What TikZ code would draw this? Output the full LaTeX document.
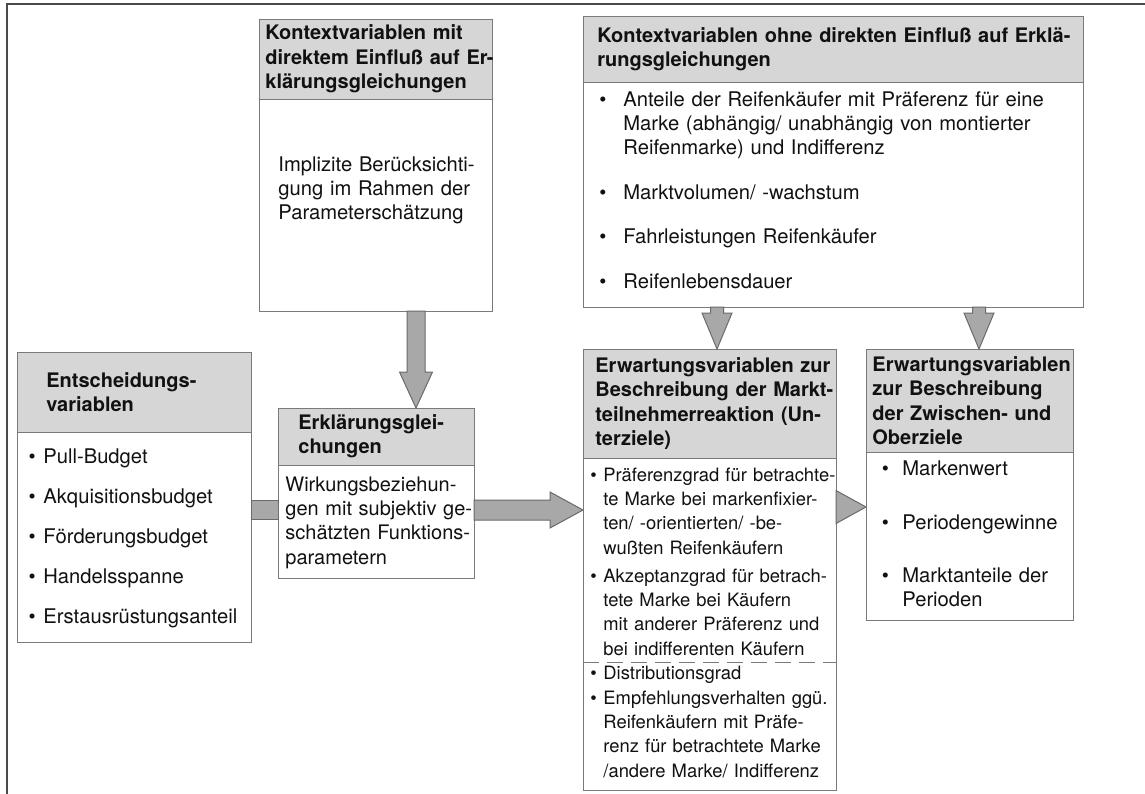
\documentclass[tikz,border=0pt]{standalone}
\usepackage{fontspec}
\setmainfont{TeX Gyre Heros}
\usetikzlibrary{calc}
\definecolor{hdrgray}{HTML}{D6D6D6}
\definecolor{linegray}{HTML}{7A7A7A}
\definecolor{arrfill}{HTML}{A8A8A8}
\definecolor{arrline}{HTML}{6A6A6A}
\definecolor{framegray}{HTML}{4A4A4A}
\definecolor{ink}{HTML}{111111}
\newcommand\bulitem[1]{\llap{\textbullet\hspace{#1}}}
% down block arrow: start, tip, half shaft, half head, head length
\newcommand\arrdown[5]{\path[blk] let \p1=#1, \p2=#2 in
  (\x1-#3,\y1) -- (\x1-#3,\y2+#5) -- (\x1-#4,\y2+#5) -- (\x1,\y2) --
  (\x1+#4,\y2+#5) -- (\x1+#3,\y2+#5) -- (\x1+#3,\y1) -- cycle;}
% right block arrow: start, tip, half shaft, half head, head length
\newcommand\arrright[5]{\path[blk] let \p1=#1, \p2=#2 in
  (\x1,\y1+#3) -- (\x2-#5,\y1+#3) -- (\x2-#5,\y1+#4) -- (\x2,\y1) --
  (\x2-#5,\y1-#4) -- (\x2-#5,\y1-#3) -- (\x1,\y1-#3) -- cycle;}
\begin{document}
\begin{tikzpicture}[x=0.5pt,y=-0.5pt,
  box/.style={draw=linegray, line width=0.5pt, fill=white, inner sep=0pt, outer sep=0pt, anchor=north west, rectangle},
  hdr/.style={box, fill=hdrgray},
  htxt/.style={font=\fontsize{10}{12.2}\selectfont\bfseries, text width=140pt, align=left, inner sep=0pt, text=ink, anchor=west},
  btxt/.style={font=\fontsize{10.1}{12.2}\selectfont, text width=140pt, align=left, inner sep=0pt, anchor=base west, text=ink},
  stxt/.style={btxt, font=\fontsize{9.2}{12.2}\selectfont},
  blk/.style={fill=arrfill, draw=arrline, line width=0.5pt, line join=miter},
  frame/.style={draw=framegray, line width=1pt}]
\clip (0,0) rectangle (1145,793);
\fill[white] (0,0) rectangle (1145,793);

% outer frame (open to the right and bottom)
\coordinate (fr1) at (7,820);
\coordinate (fr2) at (7,4);
\coordinate (fr3) at (1170,4);
\draw[frame] (fr1) -- (fr2) -- (fr3);

% Box A
\node[box, minimum width=116.5pt, minimum height=146pt] (A) at (259,19) {};
\node[hdr, minimum width=116.5pt, minimum height=40pt] (Ah) at (A.north west) {};
\node[htxt] (At) at ([xshift=3pt]Ah.west) {Kontextvariablen mit\\direktem Einfluß auf Er-\\klärungsgleichungen};
\node[btxt] (Ab) at (278,171) {Implizite Berücksichti-\\gung im Rahmen der\\Parameterschätzung};

% Box B
\node[box, minimum width=250pt, minimum height=145.5pt] (B) at (583,16) {};
\node[hdr, minimum width=250pt, minimum height=33pt] (Bh) at (B.north west) {};
\node[htxt, text width=260pt] (Bt) at ([xshift=7pt]Bh.west) {Kontextvariablen ohne direkten Einfluß auf Erklä-\\rungsgleichungen};
\node[btxt, text width=240pt] (B1) at (623,106) {\bulitem{8.5pt}Anteile der Reifenkäufer mit Präferenz für eine\\Marke (abhängig/ unabhängig von montierter\\Reifenmarke) und Indifferenz};
\node[btxt] (B2) at (623,199) {\bulitem{8.5pt}Marktvolumen/ -wachstum};
\node[btxt] (B3) at (623,243) {\bulitem{8.5pt}Fahrleistungen Reifenkäufer};
\node[btxt] (B4) at (623,288) {\bulitem{8.5pt}Reifenlebensdauer};

% Box C
\node[box, minimum width=117pt, minimum height=145pt] (C) at (17,352) {};
\node[hdr, minimum width=117pt, minimum height=40pt] (Ch) at (C.north west) {};
\node[htxt] (Ct) at ([xshift=14.5pt]Ch.west) {Entscheidungs-\\variablen};
\node[btxt] (C1) at (43,463) {\bulitem{3.8pt}Pull-Budget};
\node[btxt] (C2) at (43,503) {\bulitem{3.8pt}Akquisitionsbudget};
\node[btxt] (C3) at (43,543) {\bulitem{3.8pt}Förderungsbudget};
\node[btxt] (C4) at (43,583) {\bulitem{3.8pt}Handelsspanne};
\node[btxt] (C5) at (43,623) {\bulitem{3.8pt}Erstausrüstungsanteil};

% Box D
\node[box, minimum width=98pt, minimum height=85pt] (D) at (278,408) {};
\node[hdr, minimum width=98pt, minimum height=28.5pt] (Dh) at (D.north west) {};
\node[htxt] (Dt) at ([xshift=10pt]Dh.west) {Erklärungsglei-\\chungen};
\node[btxt, font=\fontsize{10}{12.2}\selectfont] (Db) at (285,491) {Wirkungsbeziehun-\\gen mit subjektiv ge-\\schätzten Funktions-\\parametern};

% Box E
\node[box, minimum width=126.5pt, minimum height=220.5pt] (E) at (583,349) {};
\node[hdr, minimum width=126.5pt, minimum height=54.5pt] (Eh) at (E.north west) {};
\node[htxt] (Et) at ([xshift=6pt]Eh.west) {Erwartungsvariablen zur\\Beschreibung der Markt-\\teilnehmerreaktion (Un-\\terziele)};
\node[stxt] (E1) at (603,481) {\bulitem{3.3pt}Präferenzgrad für betrachte-\\te Marke bei markenfixier-\\ten/ -orientierten/ -be-\\wußten Reifenkäufern};
\node[stxt] (E2) at (603,582) {\bulitem{3.3pt}Akzeptanzgrad für betrach-\\tete Marke bei Käufern\\mit anderer Präferenz und\\bei indifferenten Käufern};
\coordinate (edash) at (0,662);
\draw[linegray, line width=0.5pt, dash pattern=on 8pt off 4pt] (E.west |- edash) -- (E.east |- edash);
\node[stxt] (E3) at (603,679) {\bulitem{3.3pt}Distributionsgrad};
\node[stxt] (E4) at (603,704) {\bulitem{3.3pt}Empfehlungsverhalten ggü.\\Reifenkäufern mit Präfe-\\renz für betrachtete Marke\\/andere Marke/ Indifferenz};

% Box F
\node[box, minimum width=103.5pt, minimum height=135.5pt] (F) at (866,349) {};
\node[hdr, minimum width=103.5pt, minimum height=51.5pt] (Fh) at (F.north west) {};
\node[htxt] (Ft) at ([xshift=3pt]Fh.west) {Erwartungsvariablen\\zur Beschreibung\\der Zwischen- und\\Oberziele};
\node[btxt] (F1) at (902,475) {\bulitem{6.7pt}Markenwert};
\node[btxt] (F2) at (902,529) {\bulitem{6.7pt}Periodengewinne};
\node[btxt] (F3) at (902,582) {\bulitem{6.7pt}Marktanteile der\\Perioden};

% block arrows
\coordinate (adx) at (416,0);
\coordinate (bex) at (717,0);
\coordinate (bfx) at (979,0);
\coordinate (cdy) at (0,510);
\coordinate (dey) at (0,510);
\coordinate (efy) at (0,507);
\arrdown{(A.south -| adx)}{(D.north -| adx)}{4.5pt}{8.25pt}{18pt}
\arrdown{(B.south -| bex)}{(E.north -| bex)}{3.25pt}{7.5pt}{18pt}
\arrdown{(B.south -| bfx)}{(F.north -| bfx)}{3.25pt}{7.5pt}{18pt}
\arrright{(C.east |- cdy)}{(D.west |- cdy)}{4.75pt}{4.75pt}{0pt}
\arrright{(D.east |- dey)}{(E.west |- dey)}{5pt}{9pt}{16.5pt}
\arrright{(E.east |- efy)}{(F.west |- efy)}{0pt}{8.25pt}{15pt}
\end{tikzpicture}
\end{document}
